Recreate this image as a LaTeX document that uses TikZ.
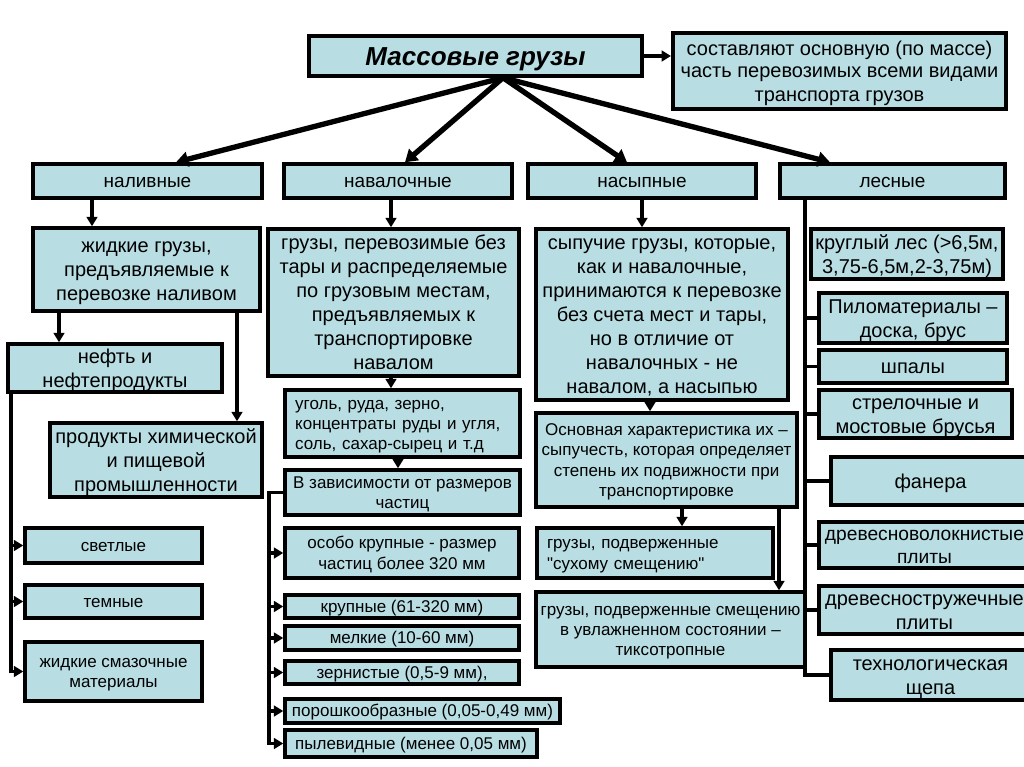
\documentclass[tikz,border=0pt]{standalone}
\usepackage{fontspec}
\setmainfont{Liberation Sans}
\newfontfamily\qfont{Liberation Sans}
\usetikzlibrary{arrows.meta}
\definecolor{boxfill}{RGB}{184,222,228}
\newcommand\szA{\fontsize{15}{18}\selectfont}
\newcommand\szB{\fontsize{12.75}{15.2}\selectfont}
\newcommand\szC{\fontsize{14.25}{17}\selectfont}
\newcommand\szD{\fontsize{14.4}{17.5}\selectfont}
\newcommand\szR{\fontsize{15}{17.25}\selectfont}
\newcommand\szT{\fontsize{19.5}{23}\selectfont\bfseries\itshape}
\newcommand\sq{{\qfont\symbol{34}}}
\newcommand\bx[8]{\node[box,font=#6,#7,minimum width={(#4-#2)*0.75pt},minimum height={(#5-#3)*0.75pt}] (#1) at ({(#2+#4)/2},{(#3+#5)/2}) {\rule{0pt}{0.95em}#8\rule[-0.25em]{0pt}{0pt}};}
\begin{document}
\begin{tikzpicture}[x=0.75pt,y=-0.75pt,
  box/.style={draw=black,line width=2.6pt,fill=boxfill,rectangle,inner sep=0pt,align=center},
  arr/.style={line width=2.3pt,-{Triangle[length=7pt,width=8pt]}},
  fanarr/.style={line width=4pt,-{Triangle[length=9pt,width=11pt]}},
  stub/.style={line width=2.3pt}]
\fill[white] (0,0) rectangle (1024,767);
\useasboundingbox (0,0) rectangle (1024,767);
% top
\bx{top}{309}{36}{642}{76}{\szT}{}{Массовые грузы}
\bx{rbox}{673}{33}{1006}{109}{\szR}{line width=3pt}{составляют основную (по массе)\\часть перевозимых всеми видами\\транспорта грузов}
% second row
\bx{nal}{33}{164}{262}{198}{\szC}{}{наливные}
\bx{nav}{284}{164}{512}{198}{\szC}{}{навалочные}
\bx{nas}{528}{164}{756}{198}{\szC}{}{насыпные}
\bx{les}{780}{164}{1005}{198}{\szC}{}{лесные}
% left column
\bx{zhid}{33}{228}{260}{311}{\szA}{}{жидкие грузы,\\предъявляемые к\\перевозке наливом}
\bx{neft}{8}{344}{222}{392}{\szA}{}{нефть и\\нефтепродукты}
\bx{prod}{50}{423}{262}{497}{\szA}{}{продукты химической\\и пищевой\\промышленности}
\bx{svet}{25}{528}{202}{563}{\szB}{}{светлые}
\bx{tem}{25}{585}{202}{618}{\szB}{}{темные}
\bx{smaz}{25}{642}{202}{701}{\szB}{}{жидкие смазочные\\материалы}
% middle column
\bx{gruzy}{268}{229}{519}{376}{\szA}{}{грузы, перевозимые без\\тары и распределяемые\\по грузовым местам,\\предъявляемых к\\транспортировке\\навалом}
\bx{ugol}{285}{390}{520}{457}{\szB}{align=left,text width=161pt}{уголь, руда, зерно,\\концентраты руды и угля,\\соль, сахар-сырец и т.д}
\bx{zav}{285}{470}{520}{515}{\szB}{}{В зависимости от размеров\\частиц}
\bx{osobo}{285}{528}{519}{578}{\szB}{}{особо крупные - размер\\частиц более 320 мм}
\bx{krup}{285}{595}{519}{618}{\szB}{}{крупные (61-320 мм)}
\bx{melk}{285}{626}{519}{650}{\szB}{}{мелкие (10-60 мм)}
\bx{zern}{285}{661}{519}{684}{\szB}{}{зернистые (0,5-9 мм),}
\bx{porosh}{285}{699}{560}{723}{\szB}{}{порошкообразные (0,05-0,49 мм)}
\bx{pyl}{285}{730}{537}{757}{\szB}{}{пылевидные (менее 0,05 мм)}
% nasypnye column
\bx{syp}{536}{229}{788}{400}{\szA}{}{сыпучие грузы, которые,\\как и навалочные,\\принимаются к перевозке\\без счета мест и тары,\\но в отличие от\\навалочных - не\\навалом, а насыпью}
\bx{osn}{536}{413}{797}{507}{\szB}{}{Основная характеристика их –\\сыпучесть, которая определяет\\степень их подвижности при\\транспортировке}
\bx{suh}{537}{528}{773}{578}{\szB}{align=left,text width=162pt}{грузы, подверженные\\\sq сухому смещению\sq}
\bx{tiks}{536}{592}{805}{667}{\szB}{}{грузы, подверженные смещению\\в увлажненном состоянии –\\тиксотропные}
% lesnye column
\bx{krug}{811}{229}{1003}{279}{\szA}{}{круглый лес (>6,5м,\\3,75-6,5м,2-3,75м)}
\bx{pilo}{819}{293}{1007}{343}{\szA}{}{Пиломатериалы –\\доска, брус}
\bx{shp}{819}{350}{1007}{383}{\szA}{}{шпалы}
\bx{strel}{819}{390}{1012}{438}{\szA}{}{стрелочные и\\мостовые брусья}
\bx{fan}{831}{457}{1030}{505}{\szA}{}{фанера}
\bx{dvp}{819}{522}{1030}{568}{\szD}{}{древесноволокнистые\\плиты}
\bx{dsp}{819}{587}{1030}{633}{\szA}{}{древесностружечные\\плиты}
\bx{tech}{831}{650}{1030}{700}{\szA}{}{технологическая\\щепа}
% coordinates
\coordinate (hub) at (503,0);
\coordinate (xa) at (176,0);
\coordinate (xb) at (405,0);
\coordinate (xc) at (627,0);
\coordinate (xd) at (830,0);
\coordinate (c1) at (92,0);
\coordinate (c2) at (59,0);
\coordinate (c3) at (237,0);
\coordinate (c4) at (391,0);
\coordinate (c5) at (398,0);
\coordinate (c6) at (642,0);
\coordinate (c7) at (650,0);
\coordinate (c8) at (682,0);
\coordinate (c9) at (779,0);
\coordinate (L) at (11,0);
\coordinate (M) at (269,0);
\coordinate (R) at (805,0);
% connectors
\draw[arr,line width=3pt] (top.east) -- (rbox.west |- top.east);
\draw[fanarr] (top.south -| hub) -- (nal.north -| xa);
\draw[fanarr] (top.south -| hub) -- (nav.north -| xb);
\draw[fanarr] (top.south -| hub) -- (nas.north -| xc);
\draw[fanarr] (top.south -| hub) -- (les.north -| xd);
\draw[arr] (nal.south -| c1) -- (zhid.north -| c1);
\draw[arr] (zhid.south -| c2) -- (neft.north -| c2);
\draw[arr] (zhid.south -| c3) -- (prod.north -| c3);
\draw[arr] (nav.south -| c4) -- (gruzy.north -| c4);
\draw[arr] (gruzy.south -| c4) -- (ugol.north -| c4);
\draw[arr] (ugol.south -| c5) -- (zav.north -| c5);
\draw[arr] (nas.south -| c6) -- (syp.north -| c6);
\draw[arr] (syp.south -| c7) -- (osn.north -| c7);
\draw[arr] (osn.south -| c8) -- (suh.north -| c8);
\draw[arr] (osn.south -| c9) -- (tiks.north -| c9);
% left bracket
\draw[arr] (neft.south -| L) |- (smaz.west);
\draw[arr] (L |- svet.west) -- (svet.west);
\draw[arr] (L |- tem.west) -- (tem.west);
% middle bracket
\draw[arr] (zav.west) -| (M |- pyl.west) -- (pyl.west);
\draw[arr] (M |- osobo.west) -- (osobo.west);
\draw[arr] (M |- krup.west) -- (krup.west);
\draw[arr] (M |- melk.west) -- (melk.west);
\draw[arr] (M |- zern.west) -- (zern.west);
\draw[arr] (M |- porosh.west) -- (porosh.west);
% right column
\draw[stub] (les.south -| R) |- (tech.west);
\draw[stub] (R |- pilo.west) -- (pilo.west);
\draw[stub] (R |- shp.west) -- (shp.west);
\draw[stub] (R |- strel.west) -- (strel.west);
\draw[stub] (R |- fan.west) -- (fan.west);
\draw[stub] (R |- dvp.west) -- (dvp.west);
\draw[stub] (R |- dsp.west) -- (dsp.west);
\end{tikzpicture}
\end{document}
